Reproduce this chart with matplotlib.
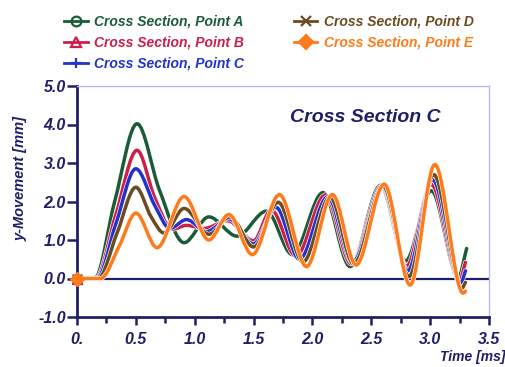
import numpy as np
import matplotlib
matplotlib.use("Agg")
import matplotlib.pyplot as plt
from matplotlib.path import Path
from matplotlib.patches import PathPatch
from matplotlib.lines import Line2D
from matplotlib.font_manager import FontProperties
import matplotlib.patheffects as pe

# ---------------- data ----------------
series_names = ["Cross Section, Point A", "Cross Section, Point B", "Cross Section, Point C",
                "Cross Section, Point D", "Cross Section, Point E"]

t_A = [0, 0.15, 0.32, 0.51, 0.70, 0.91, 1.12, 1.36, 1.61, 1.83, 2.09, 2.32, 2.58, 2.79, 3.01, 3.24, 3.31]
y_A = [0, 0.00, 2.00, 4.02, 2.30, 0.93, 1.60, 1.10, 1.75, 0.62, 2.23, 0.31, 2.42, 0.45, 2.28, 0.03, 0.78]

t_B = [0, 0.16, 0.33, 0.51, 0.66, 0.81, 0.93, 1.08, 1.28, 1.50, 1.65, 1.86, 2.11, 2.33, 2.59, 2.80, 3.01, 3.25, 3.30]
y_B = [0, 0.00, 1.66, 3.33, 2.10, 1.28, 1.38, 1.30, 1.50, 0.98, 1.78, 0.58, 2.17, 0.38, 2.40, 0.32, 2.44, -0.05, 0.42]

t_C = [0, 0.17, 0.33, 0.50, 0.66, 0.79, 0.93, 1.10, 1.29, 1.50, 1.69, 1.89, 2.13, 2.34, 2.60, 2.81, 3.02, 3.26, 3.30]
y_C = [0, 0.00, 1.42, 2.85, 1.90, 1.30, 1.53, 1.22, 1.55, 0.90, 1.85, 0.50, 2.12, 0.42, 2.38, 0.20, 2.57, -0.12, 0.20]

t_D = [0, 0.18, 0.34, 0.50, 0.63, 0.74, 0.91, 1.12, 1.30, 1.50, 1.71, 1.92, 2.15, 2.35, 2.60, 2.82, 3.03, 3.27, 3.30]
y_D = [0, 0.00, 1.18, 2.37, 1.60, 1.18, 1.82, 1.15, 1.60, 0.82, 1.98, 0.43, 2.12, 0.38, 2.40, 0.05, 2.70, -0.25, -0.10]

t_E = [0, 0.20, 0.36, 0.50, 0.68, 0.91, 1.12, 1.29, 1.49, 1.72, 1.95, 2.17, 2.37, 2.61, 2.83, 3.04, 3.28, 3.30]
y_E = [0, 0.00, 0.85, 1.70, 0.80, 2.13, 1.00, 1.66, 0.62, 2.18, 0.31, 2.18, 0.35, 2.45, -0.17, 2.96, -0.38, -0.33]

x_ticks = [0, 0.5, 1.0, 1.5, 2.0, 2.5, 3.0, 3.5]
x_tick_labels = ["0.", "0.5", "1.0", "1.5", "2.0", "2.5", "3.0", "3.5"]
y_ticks = [-1, 0, 1, 2, 3, 4, 5]
y_tick_labels = ["-1.0", "0.0", "1.0", "2.0", "3.0", "4.0", "5.0"]

# ---------------- style ----------------
navy = "#1f1f66"
colors = ["#1a5c38", "#cc1f4a", "#2233cc", "#6b4b1f", "#ff7a1a"]
markers = ["o", "^", "+", "x", "D"]
fills = ["none", "none", None, None, None]

W, H = 506, 367
fig = plt.figure(figsize=(W / 100, H / 100), dpi=100)
ax = fig.add_axes([77 / W, (H - 317) / H, 412 / W, 231 / H])

bi = dict(family="Liberation Sans", weight="bold", style="italic")


def smooth_path(t, v):
    """Smoothed line through the points (cubic Bezier, flat at extrema)."""
    t = np.asarray(t, float)
    v = np.asarray(v, float)
    d = np.diff(v) / np.diff(t)
    m = np.zeros_like(v)
    m[0] = d[0]
    m[-1] = d[-1]
    for i in range(1, len(v) - 1):
        if d[i - 1] * d[i] > 0:
            m[i] = (v[i + 1] - v[i - 1]) / (t[i + 1] - t[i - 1])
    verts = [(t[0], v[0])]
    codes = [Path.MOVETO]
    for i in range(len(t) - 1):
        h = t[i + 1] - t[i]
        verts += [(t[i] + h / 3, v[i] + m[i] * h / 3),
                  (t[i + 1] - h / 3, v[i + 1] - m[i + 1] * h / 3),
                  (t[i + 1], v[i + 1])]
        codes += [Path.CURVE4] * 3
    return Path(verts, codes)


ax.axhline(0, color=navy, lw=1.6, zorder=1)

all_t = [t_A, t_B, t_C, t_D, t_E]
all_y = [y_A, y_B, y_C, y_D, y_E]
for tt, yy, c in zip(all_t, all_y, colors):
    patch = PathPatch(smooth_path(tt, yy), facecolor="none", edgecolor=c, lw=2.5,
                      capstyle="round", joinstyle="round", zorder=2)
    patch.set_path_effects([pe.Stroke(linewidth=3.4, foreground="white"), pe.Normal()])
    ax.add_patch(patch)

# marker at origin (first data point of each series)
for tt, yy, c, mk, f in zip(all_t, all_y, colors, markers, fills):
    ax.plot([tt[0]], [yy[0]], linestyle="none", marker=mk, color=c,
            markersize=7.5, mfc=(f if f else c), clip_on=False, zorder=5)

ax.set_xlim(0, 3.5)
ax.set_ylim(-1, 5)
ax.set_xticks(x_ticks)
ax.set_xticklabels(x_tick_labels)
ax.set_xticks(np.arange(0.25, 3.5, 0.5), minor=True)
ax.set_yticks(y_ticks)
ax.set_yticklabels(y_tick_labels)

for lab in ax.get_xticklabels() + ax.get_yticklabels():
    lab.set_fontproperties(FontProperties(size=11.5, **bi))
    lab.set_color(navy)

ax.tick_params(axis="x", which="major", direction="out", length=6, width=1.8, color=navy, pad=5)
ax.tick_params(axis="x", which="minor", direction="out", length=4, width=1.8, color=navy)
ax.tick_params(axis="y", which="major", direction="out", length=7, width=1.8, color=navy, pad=1)

for s in ["left", "bottom"]:
    ax.spines[s].set_color(navy)
    ax.spines[s].set_linewidth(2.0)
for s in ["top", "right"]:
    ax.spines[s].set_color("#b8b8ec")
    ax.spines[s].set_linewidth(1.0)

ax.set_ylabel("y-Movement [mm]", color=navy, fontsize=10.5, **bi)
ax.yaxis.set_label_coords(-0.12, 0.6)
ax.set_xlabel("Time [ms]", color=navy, fontsize=10, **bi)
ax.xaxis.set_label_coords(0.96, -0.145)

ax.text(2.45, 4.19, "Cross Section C", color=navy, fontsize=14, ha="center", va="center", **bi)

handles = []
for name, c, mk, f in zip(series_names, colors, markers, fills):
    handles.append(Line2D([], [], color=c, lw=2.0, marker=mk, markersize=7,
                          mfc=(f if f else c), mew=1.6, label=name))
fig.legend(handles=handles, loc="upper left", bbox_to_anchor=(64 / W, 1 - 15 / H), ncol=2,
           frameon=False, prop=FontProperties(size=10, **bi), labelcolor="linecolor",
           handlelength=1.7, handletextpad=0.45, columnspacing=3.6, labelspacing=0.5,
           borderpad=0, borderaxespad=0)

fig.savefig("out.png", dpi=100)
